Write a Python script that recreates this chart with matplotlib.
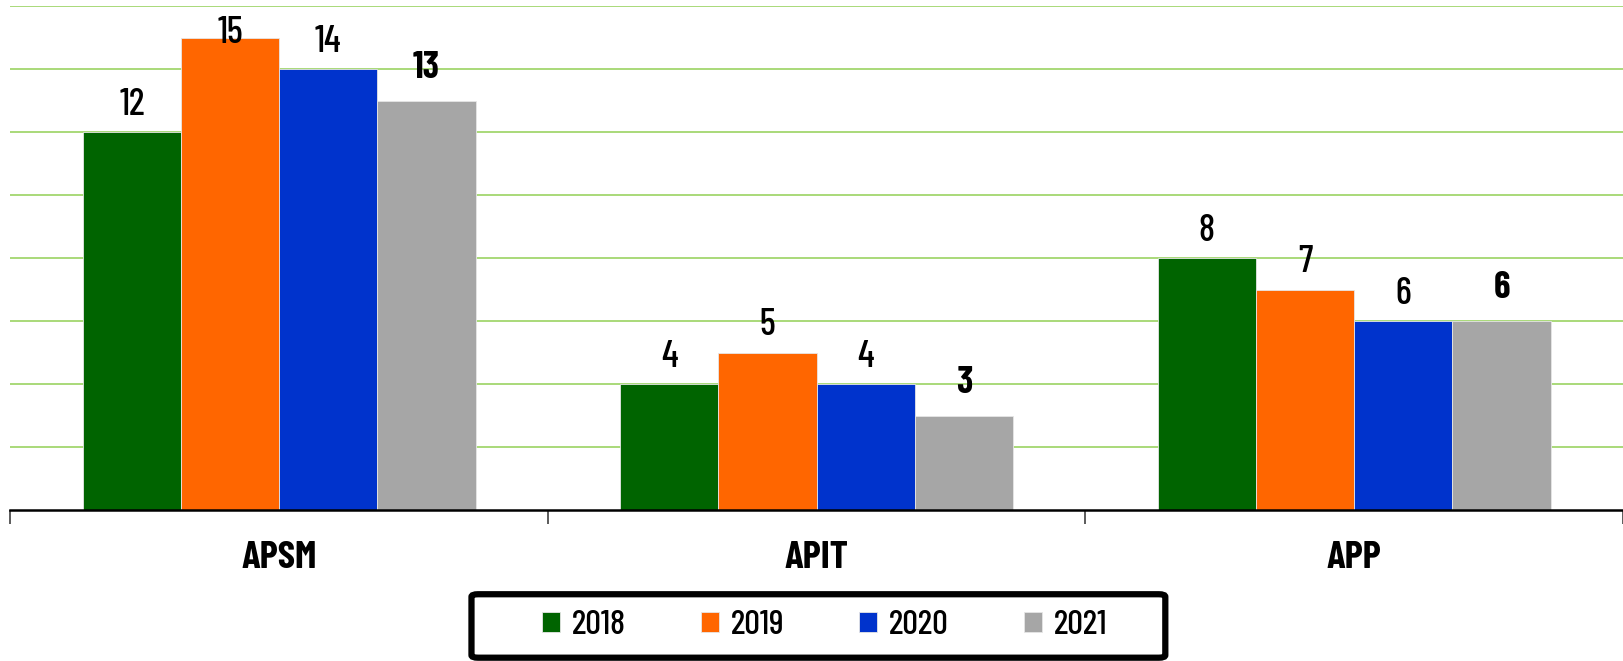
import matplotlib
matplotlib.use("Agg")
import matplotlib.pyplot as plt
from matplotlib.patches import FancyBboxPatch
import numpy as np

# data
categories = ["APSM", "APIT", "APP"]
years = ["2018", "2019", "2020", "2021"]
v2018 = [12, 4, 8]
v2019 = [15, 5, 7]
v2020 = [14, 4, 6]
v2021 = [13, 3, 6]
series = [v2018, v2019, v2020, v2021]
colors = ["#006400", "#ff6600", "#0033cc", "#a6a6a6"]

plt.rcParams["font.family"] = ["Barlow Condensed", "DejaVu Sans"]

fig = plt.figure(figsize=(16.23, 6.61), dpi=100)
ax = fig.add_axes([0.0064, 0.2285, 0.9936, 0.762])

x = np.arange(len(categories))
w = 0.1827
ymax = 16

for i, (vals, col, yr) in enumerate(zip(series, colors, years)):
    pos = x + (i - 1.5) * w
    ax.bar(pos, vals, width=w, color=col, edgecolor="#e6e6e6",
           linewidth=0.6, label=yr, zorder=3)
    bold = (i == len(series) - 1)
    off = 0.5 if bold else 0.33
    for p, v in zip(pos, vals):
        ty = min(v + off, ymax - 1.4)
        ax.text(p, ty, str(v), ha="center", va="bottom", fontsize=27,
                fontweight="bold" if bold else 500, color="black",
                zorder=4)

ax.set_xlim(-0.5, 2.5)
ax.set_ylim(0, ymax)

# gridlines
ax.set_yticks(np.arange(2, ymax + 1, 2))
ax.yaxis.grid(True, color="#a3d76e", linewidth=1.3, zorder=0)
ax.tick_params(axis="y", length=0, labelleft=False)

# category boundaries as ticks, names as minor ticks
ax.set_xticks([-0.5, 0.5, 1.5, 2.5])
ax.set_xticklabels([])
ax.tick_params(axis="x", which="major", length=10, width=1.2,
               color="#404040", direction="out")
ax.set_xticks(x, minor=True)
ax.set_xticklabels(categories, minor=True, fontsize=28, fontweight="bold")
ax.tick_params(axis="x", which="minor", length=0, pad=22)

for s in ["top", "right", "left"]:
    ax.spines[s].set_visible(False)
ax.spines["bottom"].set_linewidth(1.8)
ax.spines["bottom"].set_color("black")
ax.spines["bottom"].set_zorder(5)

# legend box drawn separately, entries without frame
box = FancyBboxPatch((0.2905, 0.005), 0.4275, 0.096,
                     boxstyle="round,pad=0,rounding_size=0.004",
                     transform=fig.transFigure, facecolor="white",
                     edgecolor="black", linewidth=4.5)
fig.patches.append(box)
leg = fig.legend(loc="center", bbox_to_anchor=(0.508, 0.0535), ncol=4,
                 prop={"size": 25, "weight": 500}, frameon=False,
                 handlelength=0.52, handleheight=0.52, handletextpad=0.35,
                 columnspacing=2.15, borderpad=0, borderaxespad=0)

fig.savefig("out.png", dpi=100)
